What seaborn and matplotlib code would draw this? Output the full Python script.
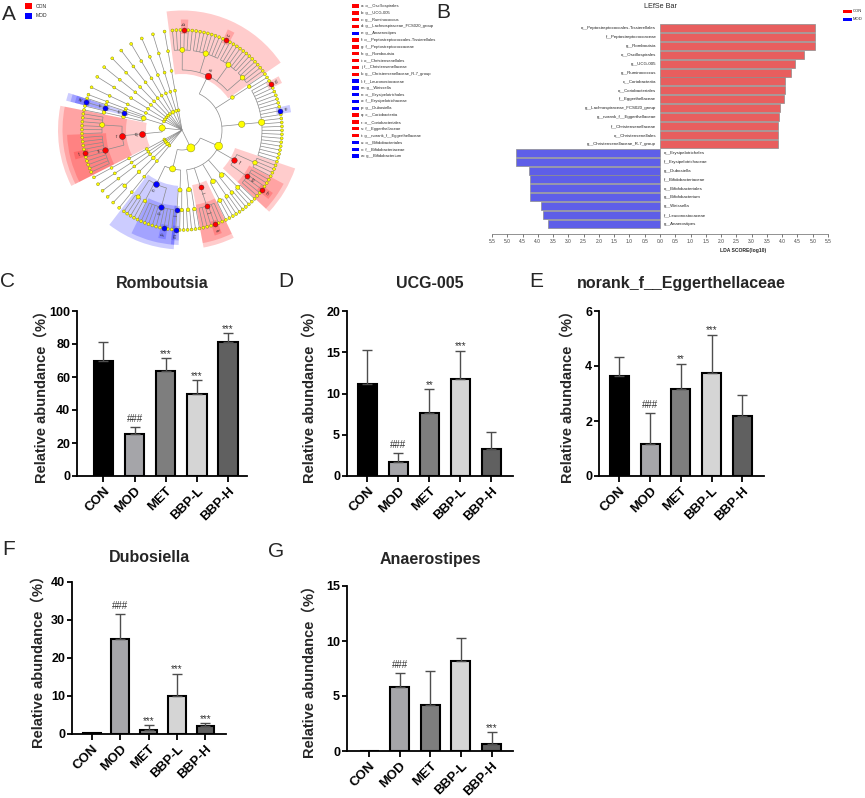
import numpy as np
import pandas as pd
import matplotlib
matplotlib.use("Agg")
import matplotlib.pyplot as plt
from matplotlib.patches import Wedge, Rectangle
import seaborn as sns

sns.set_style("ticks")
plt.rcParams["font.family"] = ["Liberation Sans", "Noto Sans CJK SC", "DejaVu Sans"]

# ---------------------------------------------------------------------------
# data: bar panels C-G (mean and upper SD)
groups = ["CON", "MOD", "MET", "BBP-L", "BBP-H"]

romboutsia_mean = [70.0, 25.3, 63.6, 49.5, 81.4]
romboutsia_sd = [11.0, 4.4, 7.7, 8.5, 5.1]
romboutsia_sig = ["", "###", "***", "***", "***"]

ucg005_mean = [11.2, 1.66, 7.6, 11.7, 3.27]
ucg005_sd = [4.1, 1.1, 2.9, 3.5, 2.05]
ucg005_sig = ["", "###", "**", "***", ""]

eggerth_mean = [3.64, 1.16, 3.18, 3.75, 2.19]
eggerth_sd = [0.70, 1.14, 0.90, 1.38, 0.76]
eggerth_sig = ["", "###", "**", "***", ""]

dubosiella_mean = [0.35, 24.9, 1.05, 10.0, 2.2]
dubosiella_sd = [0.0, 6.8, 1.25, 5.9, 0.6]
dubosiella_sig = ["", "###", "***", "***", "***"]

anaerostipes_mean = [0.0, 5.82, 4.15, 8.15, 0.67]
anaerostipes_sd = [0.0, 1.27, 3.12, 2.15, 1.06]
anaerostipes_sig = ["", "###", "", "", "***"]

# data: LEfSe bar (panel B), top to bottom
lefse_taxa = [
    "o__Peptostreptococcales-Tissierellales", "f__Peptostreptococcaceae", "g__Romboutsia",
    "o__Oscillospirales", "g__UCG-005", "g__Ruminococcus", "c__Coriobacteriia",
    "o__Coriobacteriales", "f__Eggerthellaceae", "g__Lachnospiraceae_FCS020_group",
    "g__norank_f__Eggerthellaceae", "f__Christensenellaceae", "o__Christensenellales",
    "g__Christensenellaceae_R-7_group",
    "o__Erysipelotrichales", "f__Erysipelotrichaceae", "g__Dubosiella",
    "f__Bifidobacteriaceae", "o__Bifidobacteriales", "g__Bifidobacterium",
    "g__Weissella", "f__Leuconostocaceae", "g__Anaerostipes",
]
lefse_lda = [5.08, 5.08, 5.08, 4.72, 4.43, 4.29, 4.10, 4.10, 4.07, 3.94, 3.89, 3.86, 3.86, 3.86,
             4.72, 4.70, 4.28, 4.26, 4.26, 4.26, 3.90, 3.82, 3.66]
lefse_group = ["CON"] * 14 + ["MOD"] * 9

# data: cladogram key (panel A)
clade_key = [
    ("a", "o__Oscillospirales", "CON"), ("b", "g__UCG-005", "CON"),
    ("c", "g__Ruminococcus", "CON"), ("d", "g__Lachnospiraceae_FCS020_group", "CON"),
    ("e", "g__Anaerostipes", "MOD"), ("f", "o__Peptostreptococcales-Tissierellales", "CON"),
    ("g", "f__Peptostreptococcaceae", "CON"), ("h", "g__Romboutsia", "CON"),
    ("i", "o__Christensenellales", "CON"), ("j", "f__Christensenellaceae", "CON"),
    ("k", "g__Christensenellaceae_R-7_group", "CON"), ("l", "f__Leuconostocaceae", "MOD"),
    ("m", "g__Weissella", "MOD"), ("n", "o__Erysipelotrichales", "MOD"),
    ("o", "f__Erysipelotrichaceae", "MOD"), ("p", "g__Dubosiella", "MOD"),
    ("q", "c__Coriobacteriia", "CON"), ("r", "o__Coriobacteriales", "CON"),
    ("s", "f__Eggerthellaceae", "CON"), ("t", "g__norank_f__Eggerthellaceae", "CON"),
    ("u", "o__Bifidobacteriales", "MOD"), ("v", "f__Bifidobacteriaceae", "MOD"),
    ("w", "g__Bifidobacterium", "MOD"),
]

# cladogram tree (phylum > class > order > family > genus); an int is an unnamed
# lineage ending in that many genera
other_phyla_b = [1, 1, 1, 2, 1]
firmicutes = ("p__Firmicutes", [
    ("c__Bacilli", [
        ("o__Erysipelotrichales", [3, 2, ("f__Erysipelotrichaceae", [6, "g__Dubosiella", 2])]),
        ("o__Lactobacillales", [("f__Leuconostocaceae", ["g__Weissella"]), 2]),
    ]),
    ("c__Clostridia", [
        [2, 2],
        ("o__Christensenellales", [("f__Christensenellaceae", [3, "g__Christensenellaceae_R-7_group", 2])]),
        [3, 2],
        [2, 3],
        ("o__Peptostreptococcales-Tissierellales", [("f__Peptostreptococcaceae", [2, "g__Romboutsia", 3]), 4]),
        [[13, "g__Anaerostipes", 6, "g__Lachnospiraceae_FCS020_group", 1]],
        2,
        ("o__Oscillospirales", [5, 7, ["g__Ruminococcus", 8], [2, "g__UCG-005", 3]]),
    ]),
])
other_phyla_a = [1, 1, [1, 1], 1, 1, 1, 1, 1]
actinobacteriota = ("p__Actinobacteriota", [
    ("c__Actinobacteria", [1, 1, ("o__Bifidobacteriales", [("f__Bifidobacteriaceae", ["g__Bifidobacterium"])]), 2]),
    ("c__Coriobacteriia", [("o__Coriobacteriales", [6, ("f__Eggerthellaceae", [4, "g__norank_f__Eggerthellaceae", 5])])]),
])
phyla = other_phyla_b + [firmicutes] + other_phyla_a + [actinobacteriota]
# lone lineages take wider slots on the ring
slot_b, slot_a = 2, 3

# ---------------------------------------------------------------------------
W, H = 865, 798
fig = plt.figure(figsize=(W / 100, H / 100), dpi=100)
RED, BLUE = "#ff0000", "#0000ff"
grp_color = {"CON": RED, "MOD": BLUE}


def box(x0, y0, x1, y1):
    return [x0 / W, 1 - y1 / H, (x1 - x0) / W, (y1 - y0) / H]


def fx(x):
    return x / W


def fy(y):
    return 1 - y / H


# ---------------------------------------------------------------------------
# A: cladogram
def make(item, level):
    if isinstance(item, int):
        if level == 5:
            return [{"name": "", "level": 5, "kids": []} for _ in range(item)]
        return [{"name": "", "level": level, "kids": make(item, level + 1)}]
    if isinstance(item, str):
        return [{"name": item, "level": 5, "kids": []}]
    name, kids = item if isinstance(item, tuple) else ("", item)
    return [{"name": name, "level": level, "kids": [c for k in kids for c in make(k, level + 1)]}]


def walk(n, out):
    out.append(n)
    for k in n["kids"]:
        walk(k, out)
    return out


root = make(phyla, 0)[0]
nodes = walk(root, [])
leaves = [n for n in nodes if not n["kids"]]
for lf in leaves:
    lf["w"] = 1
nb, na = len(other_phyla_b), len(other_phyla_a)
for k in root["kids"][:nb]:
    for lf in walk(k, []):
        lf["w"] = slot_b
for k in root["kids"][nb + 1:nb + 1 + na]:
    for lf in walk(k, []):
        lf["w"] = slot_a

step = 360 / sum(lf["w"] for lf in leaves)
clade_start = 206
cum = 0
for lf in leaves:
    if not lf["kids"]:
        lf["ang"] = lf["lo"] = lf["hi"] = clade_start + (cum + lf["w"] / 2) * step
        lf["n"] = 1
        cum += lf["w"]


def place(n):
    if n["kids"]:
        for k in n["kids"]:
            place(k)
        n["ang"] = np.mean([k["ang"] for k in n["kids"]])
        n["lo"], n["hi"] = n["kids"][0]["lo"], n["kids"][-1]["hi"]
        n["n"] = sum(k["n"] for k in n["kids"])


place(root)
radii = [0, 20, 40, 60, 80, 100]


def xy(r, a):
    t = np.deg2rad(a)
    return r * np.cos(t), r * np.sin(t)


axA = fig.add_axes(box(52, 0, 312, 260))
axA.set_xlim(-130, 130)
axA.set_ylim(-130, 130)
axA.set_aspect("equal")
axA.axis("off")

key_lookup = {name: (letter, grp) for letter, name, grp in clade_key}
pad = 0.8
for n in nodes:
    if n["name"] in key_lookup:
        letter, grp = key_lookup[n["name"]]
        L = n["level"]
        r_in = radii[L] - 4
        r_out = 106 + (6 - L) * 4.5
        axA.add_patch(Wedge((0, 0), r_out, n["lo"] - step / 2 - pad, n["hi"] + step / 2 + pad,
                            width=r_out - r_in, facecolor=grp_color[grp], alpha=0.2, lw=0, zorder=0))

line_kw = dict(color="#8a8a8a", lw=0.5, zorder=1, solid_capstyle="butt")
for n in nodes:
    if not n["kids"]:
        continue
    rp = radii[n["level"]]
    if len(n["kids"]) > 1 and rp > 0:
        t = np.linspace(n["kids"][0]["ang"], n["kids"][-1]["ang"], 40)
        axA.plot(*xy(rp, t), **line_kw)
    for k in n["kids"]:
        x0, y0 = xy(rp, k["ang"])
        x1, y1 = xy(radii[k["level"]], k["ang"])
        axA.plot([x0, x1], [y0, y1], **line_kw)

xs, ys, ss = [], [], []
for n in nodes[1:]:
    x, y = xy(radii[n["level"]], n["ang"])
    s = (2.1 + 0.8 * np.log(n["n"])) ** 2
    if n["name"] in key_lookup:
        letter, grp = key_lookup[n["name"]]
        axA.scatter([x], [y], s=max(s, 13), facecolor=grp_color[grp], edgecolor="#333333",
                    linewidth=0.3, zorder=4)
        lx, ly = xy(radii[n["level"]] + 6, n["ang"])
        rot = n["ang"] % 360
        if 90 < rot < 270:
            rot -= 180
        axA.text(lx, ly, letter, fontsize=3.3, rotation=rot, ha="center", va="center", zorder=5)
    else:
        xs.append(x)
        ys.append(y)
        ss.append(s)
axA.scatter(xs, ys, s=ss, facecolor="#ffff00", edgecolor="#7a7a10", linewidth=0.3, zorder=3)

# A legend (CON / MOD)
for yy, grp in [(3.3, "CON"), (12.7, "MOD")]:
    fig.add_artist(Rectangle((fx(25), fy(yy + 6)), 7 / W, 6 / H, transform=fig.transFigure,
                             facecolor=grp_color[grp], edgecolor="none"))
    fig.text(fx(36), fy(yy + 3), grp, fontsize=3.6, va="center", ha="left")

# A key list
for i, (letter, name, grp) in enumerate(clade_key):
    yy = 6 + i * 6.82
    fig.add_artist(Rectangle((fx(352), fy(yy + 1.7)), 6.5 / W, 3.4 / H, transform=fig.transFigure,
                             facecolor=grp_color[grp], edgecolor="none"))
    fig.text(fx(361), fy(yy), f"{letter}: {name}", fontsize=3, va="center", ha="left")

# ---------------------------------------------------------------------------
# B: LEfSe bar
axB = fig.add_axes(box(492, 20, 828, 234))
signed = [v if g == "CON" else -v for v, g in zip(lefse_lda, lefse_group)]
df_lefse = pd.DataFrame({"taxon": lefse_taxa, "lda": signed, "group": lefse_group})
sns.barplot(data=df_lefse, x="lda", y="taxon", hue="group", orient="h", dodge=False,
            palette={"CON": "#ff4747", "MOD": "#4747ff"}, width=0.9, edgecolor="#8c8c8c",
            linewidth=0.5, legend=False, errorbar=None, ax=axB)
axB.set_xlim(-5.5, 5.5)
axB.set_ylim(23.12, -0.9)
axB.set_yticks([])
axB.set_ylabel("")
for side in ["left", "right", "top"]:
    axB.spines[side].set_visible(False)
axB.spines["bottom"].set_linewidth(0.5)
axB.spines["bottom"].set_color("#666666")
ticks = np.arange(-5.5, 5.51, 0.5)
axB.set_xticks(ticks)
axB.set_xticklabels([f"{abs(t):.1f}" for t in ticks])
axB.tick_params(axis="x", labelsize=3.5, length=2, width=0.5, pad=1.5, colors="#444444")
for i, (t, v) in enumerate(zip(lefse_taxa, signed)):
    if v > 0:
        axB.text(-0.12, i, t, ha="right", va="center", fontsize=3.2, color="#222222")
    else:
        axB.text(0.12, i, t, ha="left", va="center", fontsize=3.2, color="#222222")
axB.set_xlabel("LDA SCORE(log10)", fontsize=3.6, fontweight="bold", va="center")
axB.xaxis.set_label_coords(0.747, -0.079)
fig.text(fx(660), fy(7), "LEfSe Bar", ha="center", va="center", fontsize=5.2)
for yy, grp in [(10, "CON"), (18, "MOD")]:
    fig.add_artist(Rectangle((fx(843), fy(yy + 3)), 9 / W, 3 / H, transform=fig.transFigure,
                             facecolor=grp_color[grp], edgecolor="none"))
    fig.text(fx(853), fy(yy + 1.5), grp, fontsize=3, va="center", ha="left")

# ---------------------------------------------------------------------------
# C-G: bar charts
bar_colors = dict(zip(groups, ["#000000", "#a4a4aa", "#7e7e7e", "#d5d5d5", "#606060"]))
panels = [
    dict(letter="C", title="Romboutsia", mean=romboutsia_mean, sd=romboutsia_sd, sig=romboutsia_sig,
         box=(77, 311, 247, 476), xlim=(-0.85, 4.61), yticks=[0, 20, 40, 60, 80, 100],
         letter_xy=(0, 287), title_y=288, ylab_off=35),
    dict(letter="D", title="UCG-005", mean=ucg005_mean, sd=ucg005_sd, sig=ucg005_sig,
         box=(347, 311, 513, 476), xlim=(-0.66, 4.70), yticks=[0, 5, 10, 15, 20],
         letter_xy=(278, 287), title_y=288, ylab_off=37),
    dict(letter="E", title="norank_f__Eggerthellaceae", mean=eggerth_mean, sd=eggerth_sd, sig=eggerth_sig,
         box=(599, 311, 764, 476), xlim=(-0.66, 4.70), yticks=[0, 2, 4, 6],
         letter_xy=(529, 287), title_y=288, ylab_off=31),
    dict(letter="F", title="Dubosiella", mean=dubosiella_mean, sd=dubosiella_sd, sig=dubosiella_sig,
         box=(72, 582, 226, 734), xlim=(-0.70, 4.73), yticks=[0, 10, 20, 30, 40],
         letter_xy=(2, 555), title_y=562, ylab_off=33),
    dict(letter="G", title="Anaerostipes", mean=anaerostipes_mean, sd=anaerostipes_sd, sig=anaerostipes_sig,
         box=(347, 586, 513, 751), xlim=(-0.72, 4.70), yticks=[0, 5, 10, 15],
         letter_xy=(268, 557), title_y=564, ylab_off=37),
]

for p in panels:
    x0, y0, x1, y1 = p["box"]
    ax = fig.add_axes(box(x0, y0, x1, y1))
    df = pd.DataFrame({"group": groups, "value": p["mean"]})
    sns.barplot(data=df, x="group", y="value", hue="group", palette=bar_colors, width=0.62,
                edgecolor="black", linewidth=1.5, legend=False, errorbar=None, ax=ax)
    mean = np.array(p["mean"])
    sd = np.array(p["sd"])
    keep = sd > 0
    idx = np.arange(len(groups))
    ax.errorbar(idx[keep], mean[keep], yerr=[np.zeros(keep.sum()), sd[keep]], fmt="none",
                ecolor="#4d4d4d", elinewidth=1.0, capsize=3.6, capthick=1.0, zorder=3)
    for i, t in enumerate(p["sig"]):
        if t:
            ax.annotate(t, (i, mean[i] + sd[i]), xytext=(0, 1.0 if "*" in t else 3.5),
                        textcoords="offset points", ha="center", va="baseline",
                        fontsize=7, color="#333333")
    ax.set_xlim(*p["xlim"])
    ax.set_ylim(p["yticks"][0], p["yticks"][-1])
    ax.set_yticks(p["yticks"])
    ax.set_xticks(idx)
    ax.set_xticklabels(groups, rotation=45, ha="right", rotation_mode="anchor",
                       fontweight="bold", fontsize=9.5)
    for lbl in ax.get_yticklabels():
        lbl.set_fontweight("bold")
        lbl.set_fontsize(9)
    ax.tick_params(axis="x", length=4.5, width=1.3, pad=2, colors="black")
    ax.tick_params(axis="y", length=3.5, width=1.3, pad=1.5, colors="black")
    sns.despine(ax=ax)
    for side in ["left", "bottom"]:
        ax.spines[side].set_linewidth(1.3)
        ax.spines[side].set_color("black")
    ax.set_xlabel("")
    ax.set_ylabel("Relative abundance（%）", fontsize=10.5, fontweight="bold", va="center")
    ax.yaxis.set_label_coords(-p["ylab_off"] / (x1 - x0), 0.5)
    fig.text(fx((x0 + x1) / 2), fy(p["title_y"]), p["title"], ha="center", va="baseline",
             fontsize=11.5, fontweight="bold")
    lx, ly = p["letter_xy"]
    fig.text(fx(lx), fy(ly), p["letter"], ha="left", va="baseline", fontsize=15)

# panel letters A, B
fig.text(fx(2), fy(20), "A", ha="left", va="baseline", fontsize=15)
fig.text(fx(436), fy(18), "B", ha="left", va="baseline", fontsize=15)

fig.savefig("out.png", dpi=100)
